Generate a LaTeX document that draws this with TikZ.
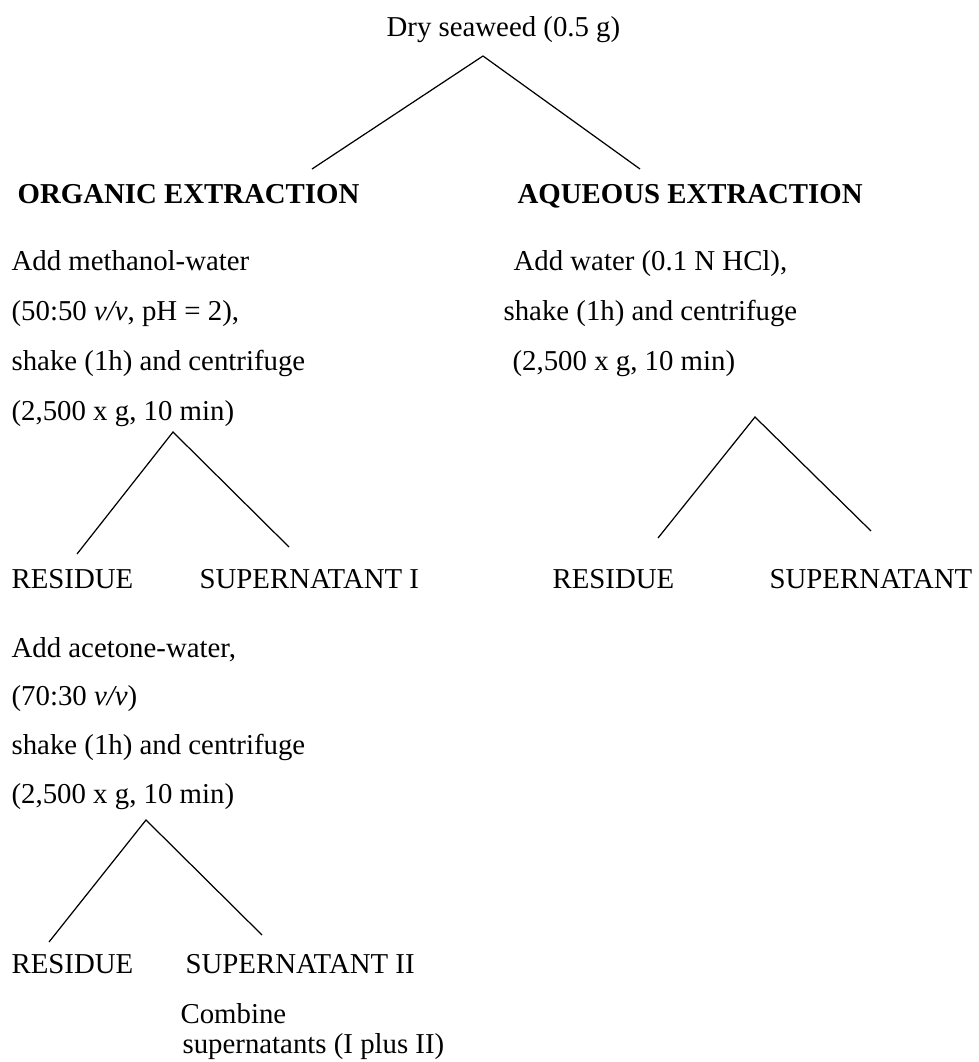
\documentclass[tikz,border=0pt]{standalone}
\usepackage{fontspec}
\setmainfont{Liberation Serif}
\begin{document}
\begin{tikzpicture}[x=0.02cm, y=-0.02cm, line width=0.7pt,
  every node/.style={inner sep=0pt, anchor=base west, font=\fontsize{16.4}{20}\selectfont}]
\useasboundingbox (0,0) rectangle (979,1062);

\node (dry) at (386,36) {Dry seaweed (0.5 g)};

\coordinate (T0) at (483,56);
\coordinate (T0L) at (312,169);
\coordinate (T0R) at (640,169);
\draw (T0L) -- (T0) -- (T0R);

\begin{scope}[every node/.append style={font=\fontsize{16.4}{20}\selectfont\bfseries}]
\node (org) at (17,203) {ORGANIC EXTRACTION};
\node (aq) at (517,203) {AQUEOUS EXTRACTION};
\end{scope}

% organic side
\node (orgA) at (11,270) {Add methanol-water};
\node (orgB) at (11,320) {(50:50 \textit{v/v}, pH = 2),};
\node (orgC) at (11,370) {shake (1h) and centrifuge};
\node (orgD) at (11,420) {(2,500 x g, 10 min)};

\coordinate (T1) at (173,432);
\coordinate (T1L) at (77,554);
\coordinate (T1R) at (289,547);
\draw (T1L) -- (T1) -- (T1R);

\node (res1) at (11,588) {RESIDUE};
\node (sup1) at (199,588) {SUPERNATANT I};

\node (accA) at (11,657) {Add acetone-water,};
\node (accB) at (11,705) {(70:30 \textit{v/v})};
\node (accC) at (11,754) {shake (1h) and centrifuge};
\node (accD) at (11,803) {(2,500 x g, 10 min)};

\coordinate (T2) at (146,820);
\coordinate (T2L) at (49,942);
\coordinate (T2R) at (262,935);
\draw (T2L) -- (T2) -- (T2R);

\node (res2) at (11,973) {RESIDUE};
\node (sup2) at (185,973) {SUPERNATANT II};
\node (combA) at (180,1023) {Combine};
\node (combB) at (182,1053) {supernatants (I plus II)};

% aqueous side
\node (aqA) at (513,270) {Add water (0.1 N HCl),};
\node (aqB) at (503,320) {shake (1h) and centrifuge};
\node (aqC) at (512,370) {(2,500 x g, 10 min)};

\coordinate (T3) at (755,417);
\coordinate (T3L) at (658,538);
\coordinate (T3R) at (871,531);
\draw (T3L) -- (T3) -- (T3R);

\node (res3) at (552,588) {RESIDUE};
\node (sup3) at (769,588) {SUPERNATANT};

\end{tikzpicture}
\end{document}
